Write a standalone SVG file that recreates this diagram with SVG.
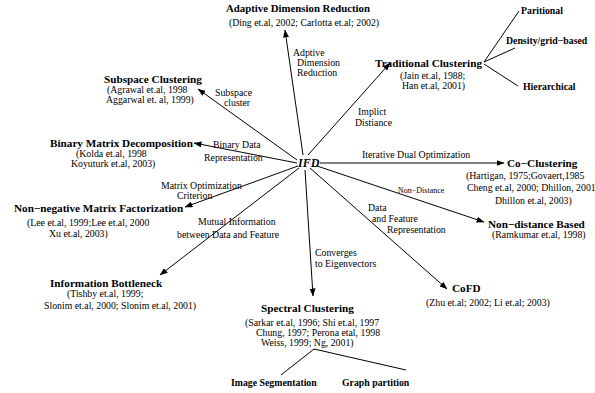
<svg xmlns="http://www.w3.org/2000/svg" width="595" height="393" viewBox="0 0 595 393">
<defs>
<marker id="ah" markerWidth="8" markerHeight="6" refX="7.5" refY="3" orient="auto" markerUnits="userSpaceOnUse">
<path d="M0,0 L8,3 L0,6 Z" fill="#000"/>
</marker>
<style>
text{font-family:"Liberation Serif","Times New Roman",serif;fill:#000}
.t{font-size:11.2px;font-weight:bold}
.s{font-size:9.8px;font-weight:bold}
.c{font-size:9.8px}
.l{font-size:9.8px}
.sm{font-size:8px}
.mid{text-anchor:middle}
line{stroke:#000;stroke-width:1}
.a{marker-end:url(#ah)}
</style>
</defs>
<rect width="595" height="393" fill="#fff"/>
<g id="connectors">
<line class="a" x1="303" y1="155" x2="285" y2="30"/>
<line class="a" x1="308" y1="155" x2="390" y2="63"/>
<line class="a" x1="297" y1="160" x2="198" y2="89"/>
<line class="a" x1="297" y1="163" x2="194" y2="143"/>
<line class="a" x1="298" y1="166" x2="185" y2="207"/>
<line class="a" x1="299" y1="168" x2="160" y2="275"/>
<line class="a" x1="305" y1="170" x2="313" y2="296"/>
<line class="a" x1="310" y1="168" x2="447" y2="289"/>
<line class="a" x1="317" y1="166" x2="484" y2="222"/>
<line class="a" x1="320" y1="163" x2="504" y2="163"/>
<line x1="484" y1="62" x2="519" y2="11"/>
<line x1="484" y1="62" x2="515" y2="48"/>
<line x1="484" y1="64" x2="518" y2="86"/>
<line x1="314" y1="349" x2="281" y2="375"/>
<line x1="314" y1="349" x2="406" y2="370"/>
</g>
<g id="IFD"><text x="298" y="167" style="font-size:12px;font-weight:bold;font-style:italic">IFD</text></g>
<g id="adaptive">
<text class="t mid" x="298" y="12" style="font-size:10.8px">Adaptive Dimension Reduction</text>
<text class="c mid" x="304" y="26">(Ding et.al, 2002; Carlotta et.al; 2002)</text>
</g>
<g id="traditional">
<text class="t" x="375" y="67">Traditional Clustering</text>
<text class="c" x="400" y="79">(Jain et.al, 1988;</text>
<text class="c" x="402" y="89">Han et.al, 2001)</text>
</g>
<g id="paritional"><text class="s" x="521" y="14">Paritional</text></g>
<g id="density"><text class="s" x="506" y="44">Density/grid−based</text></g>
<g id="hierarchical"><text class="s" x="523" y="90">Hierarchical</text></g>
<g id="subspace">
<text class="t" x="104" y="83">Subspace Clustering</text>
<text class="c" x="107" y="93">(Agrawal et.al, 1998</text>
<text class="c" x="106" y="103">Aggarwal et. al, 1999)</text>
</g>
<g id="binary">
<text class="t" x="50" y="147">Binary Matrix Decomposition</text>
<text class="c" x="76" y="157">(Kolda et.al, 1998</text>
<text class="c" x="71" y="167">Koyuturk et.al, 2003)</text>
</g>
<g id="nmf">
<text class="t" x="14" y="212">Non−negative Matrix Factorization</text>
<text class="c" x="27" y="226">(Lee et.al, 1999;Lee et.al, 2000</text>
<text class="c" x="49" y="237">Xu et.al,  2003)</text>
</g>
<g id="infobottleneck">
<text class="t" x="50" y="287">Information Bottleneck</text>
<text class="c" x="67" y="297">(Tishby et.al, 1999;</text>
<text class="c" x="44" y="309">Slonim et.al, 2000; Slonim et.al, 2001)</text>
</g>
<g id="spectral">
<text class="t" x="261" y="312">Spectral Clustering</text>
<text class="c" x="245" y="326">(Sarkar et.al, 1996; Shi et.al, 1997</text>
<text class="c" x="256" y="336">Chung, 1997; Perona etal, 1998</text>
<text class="c" x="261" y="346">Weiss, 1999; Ng, 2001)</text>
</g>
<g id="imageseg"><text class="s" x="231" y="386">Image Segmentation</text></g>
<g id="graphpart"><text class="s" x="342" y="386">Graph partition</text></g>
<g id="cofd">
<text class="t" x="452" y="292">CoFD</text>
<text class="c" x="426" y="306">(Zhu et.al; 2002; Li et.al; 2003)</text>
</g>
<g id="nondistance">
<text class="t" x="488" y="228">Non−distance Based</text>
<text class="c" x="492" y="238">(Ramkumar et.al, 1998)</text>
</g>
<g id="coclustering">
<text class="t" x="507" y="167">Co−Clustering</text>
<text class="c" x="466" y="179">(Hartigan, 1975;Govaert,1985</text>
<text class="c" x="467" y="191">Cheng et.al, 2000; Dhillon, 2001</text>
<text class="c" x="495" y="204">Dhillon et.al, 2003)</text>
</g>
<g id="labels">
<text class="l" x="293" y="56">Adptive</text>
<text class="l" x="297" y="66">Dimension</text>
<text class="l" x="297" y="76">Reduction</text>
<text class="l" x="215" y="96">Subspace</text>
<text class="l" x="224" y="106">cluster</text>
<text class="l" x="358" y="115">Implict</text>
<text class="l" x="355" y="126">Distiance</text>
<text class="l" x="213" y="148">Binary Data</text>
<text class="l" x="204" y="161">Representation</text>
<text class="l" x="362" y="158">Iterative Dual Optimization</text>
<text class="l" x="161" y="189">Matrix Optimization</text>
<text class="l" x="177" y="199">Criterion</text>
<text class="l" x="198" y="225">Mutual Information</text>
<text class="l" x="177" y="238">between Data and Feature</text>
<text class="sm" x="398" y="193">Non−Distance</text>
<text class="l" x="368" y="211">Data</text>
<text class="l" x="372" y="222">and Feature</text>
<text class="l" x="387" y="233">Representation</text>
<text class="l" x="315" y="256">Converges</text>
<text class="l" x="315" y="267">to Eigenvectors</text>
</g>
</svg>
